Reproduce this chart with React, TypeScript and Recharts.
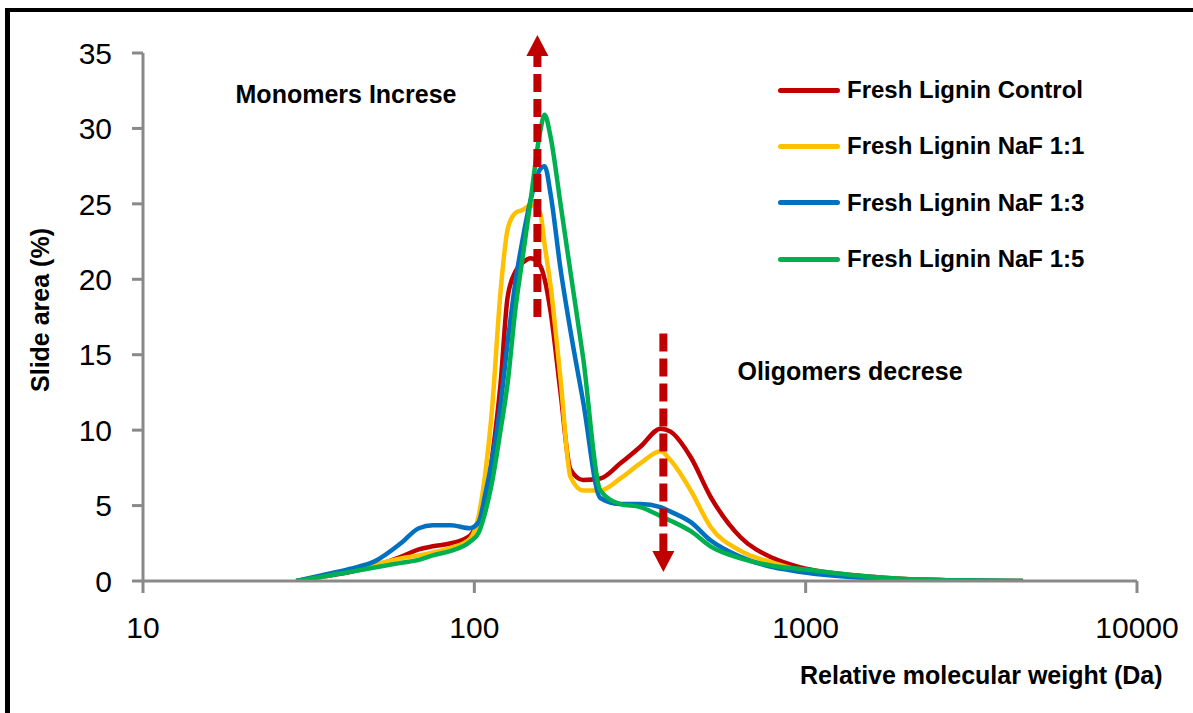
import React from 'react';
import { LineChart, Line, XAxis, YAxis, Legend, ReferenceLine } from 'recharts';

// Relative molecular weight (Da)
const mw = [29, 35, 42, 50, 60, 68, 75, 85, 97, 103, 108, 113, 120, 126, 133, 140, 148, 158, 163, 170, 182, 195, 213, 240, 276, 317, 365, 391, 450, 516, 636, 800, 966, 1540, 1940, 2740, 4530];

// Slide area (%)
const control = [0, 0.3, 0.6, 1.0, 1.6, 2.1, 2.3, 2.5, 3.0, 4.0, 5.2, 8.1, 13.1, 18.8, 20.5, 21.1, 21.4, 20.9, 20.0, 17.8, 12.5, 7.4, 6.7, 6.8, 7.8, 8.9, 10.1, 9.9, 8.2, 5.6, 2.9, 1.5, 0.9, 0.3, 0.15, 0.05, 0];
const naf11 = [0, 0.3, 0.7, 1.1, 1.5, 1.7, 1.9, 2.2, 2.8, 4.3, 7.2, 11.3, 19.2, 23.3, 24.4, 24.6, 24.9, 24.4, 22.3, 19.5, 13.4, 6.9, 6.0, 6.0, 6.8, 7.8, 8.6, 8.0, 6.0, 3.6, 2.0, 1.2, 0.7, 0.25, 0.12, 0.05, 0];
const naf13 = [0, 0.4, 0.8, 1.3, 2.5, 3.5, 3.7, 3.7, 3.5, 3.9, 5.8, 8.0, 11.7, 15.8, 19.8, 22.7, 25.3, 27.3, 27.5, 25.6, 20.7, 16.6, 11.9, 5.5, 5.1, 5.1, 4.9, 4.6, 3.9, 2.7, 1.6, 0.9, 0.6, 0.2, 0.1, 0.05, 0];
const naf15 = [0, 0.3, 0.6, 0.9, 1.2, 1.4, 1.7, 2.0, 2.6, 3.2, 4.6, 6.5, 10.0, 13.1, 18.0, 21.5, 25.3, 29.8, 30.9, 29.4, 25.0, 20.5, 14.8, 6.0, 5.1, 4.9, 4.3, 4.0, 3.3, 2.3, 1.5, 1.0, 0.8, 0.3, 0.15, 0.05, 0];

const seriesKeys = ['control', 'naf11', 'naf13', 'naf15'];
const seriesNames = ['Fresh Lignin Control', 'Fresh Lignin NaF 1:1', 'Fresh Lignin NaF 1:3', 'Fresh Lignin NaF 1:5'];
const seriesColors = ['#C00000', '#FFC000', '#0070C0', '#00B050'];
const seriesValues = [control, naf11, naf13, naf15];

const xTicks = [10, 100, 1000, 10000];
const yTicks = [0, 5, 10, 15, 20, 25, 30, 35];

// Annotation arrows (x in Da, y in %)
const upArrow = [{ x: 155, y: 17.5 }, { x: 155, y: 36.2 }];
const downArrow = [{ x: 372, y: 16.4 }, { x: 372, y: 0.6 }];

const annotations = ['Monomers Increse', 'Oligomers decrese'];
const xTitle = 'Relative molecular weight (Da)';
const yTitle = 'Slide area (%)';

const rows = mw.map((m, i) => {
  const r: any = { mw: m };
  seriesKeys.forEach((k, j) => { r[k] = seriesValues[j][i]; });
  return r;
});

const FONT = '"Liberation Sans", Arial, sans-serif';
const AXIS = '#898989';
const ARROW = '#C00000';

const ArrowShape = (props: any) => {
  const { x1, y1, x2, y2 } = props;
  if ([x1, y1, x2, y2].some((v) => v == null || isNaN(v))) return null;
  const headLen = 21;
  const half = 11;
  const dir = y2 < y1 ? -1 : 1;
  const baseY = y2 - dir * headLen;
  return (
    <g>
      <line x1={x1} y1={y1} x2={x2} y2={baseY} stroke={ARROW} strokeWidth={8} strokeDasharray="18 7" />
      <polygon points={`${x2 - half},${baseY} ${x2 + half},${baseY} ${x2},${y2}`} fill={ARROW} />
    </g>
  );
};

const renderLegend = () => (
  <div style={{ fontFamily: FONT }}>
    {seriesNames.map((n, i) => (
      <div key={n} style={{ display: 'flex', alignItems: 'center', height: 56.3 }}>
        <div style={{ width: 62, height: 5, borderRadius: 3, background: seriesColors[i], marginRight: 7 }} />
        <span style={{ fontSize: 24, fontWeight: 'bold', color: '#000', whiteSpace: 'nowrap' }}>{n}</span>
      </div>
    ))}
  </div>
);

export default function App() {
  return (
    <div style={{ position: 'absolute', left: 0, top: 0, width: 1193, height: 713, background: '#fff', fontFamily: FONT, overflow: 'hidden' }}>
      <LineChart width={1193} height={713} data={rows} margin={{ top: 53, right: 56, bottom: 72, left: 83 }}>
        <XAxis
          dataKey="mw"
          type="number"
          scale="log"
          domain={[10, 10000]}
          ticks={xTicks}
          interval={0}
          allowDataOverflow
          height={60}
          tickSize={12}
          tickMargin={24}
          tick={{ fill: '#000', fontSize: 30, fontFamily: FONT }}
          axisLine={{ stroke: AXIS, strokeWidth: 3 }}
          tickLine={{ stroke: AXIS, strokeWidth: 3 }}
        />
        <YAxis
          type="number"
          domain={[0, 35]}
          ticks={yTicks}
          interval={0}
          allowDataOverflow
          width={60}
          tickSize={11}
          tickMargin={20}
          tick={{ fill: '#000', fontSize: 30, fontFamily: FONT }}
          axisLine={{ stroke: AXIS, strokeWidth: 3 }}
          tickLine={{ stroke: AXIS, strokeWidth: 3 }}
        />
        <Legend
          verticalAlign="middle"
          align="center"
          layout="vertical"
          content={renderLegend}
          wrapperStyle={{ left: 778, top: 62, width: 400 }}
        />
        {seriesKeys.map((k, i) => (
          <Line
            key={k}
            type="monotone"
            dataKey={k}
            name={seriesNames[i]}
            stroke={seriesColors[i]}
            strokeWidth={4.5}
            dot={false}
            activeDot={false}
            isAnimationActive={false}
          />
        ))}
        <ReferenceLine segment={upArrow} ifOverflow="visible" shape={ArrowShape} />
        <ReferenceLine segment={downArrow} ifOverflow="visible" shape={ArrowShape} />
      </LineChart>
      <svg width={1193} height={713} style={{ position: 'absolute', left: 0, top: 0, pointerEvents: 'none' }}>
        <line x1={7.5} y1={8} x2={7.5} y2={713} stroke="#000" strokeWidth={5} />
        <line x1={5} y1={10} x2={1193} y2={10} stroke="#000" strokeWidth={4} />
        <text x={346} y={103} textAnchor="middle" fontSize={25} fontWeight="bold" fontFamily={FONT} fill="#000">{annotations[0]}</text>
        <text x={850} y={380} textAnchor="middle" fontSize={25} fontWeight="bold" fontFamily={FONT} fill="#000">{annotations[1]}</text>
        <text x={800} y={684} textAnchor="start" fontSize={25} fontWeight="bold" fontFamily={FONT} fill="#000">{xTitle}</text>
        <text transform="translate(49,310) rotate(-90)" textAnchor="middle" fontSize={25} fontWeight="bold" fontFamily={FONT} fill="#000">{yTitle}</text>
      </svg>
    </div>
  );
}
